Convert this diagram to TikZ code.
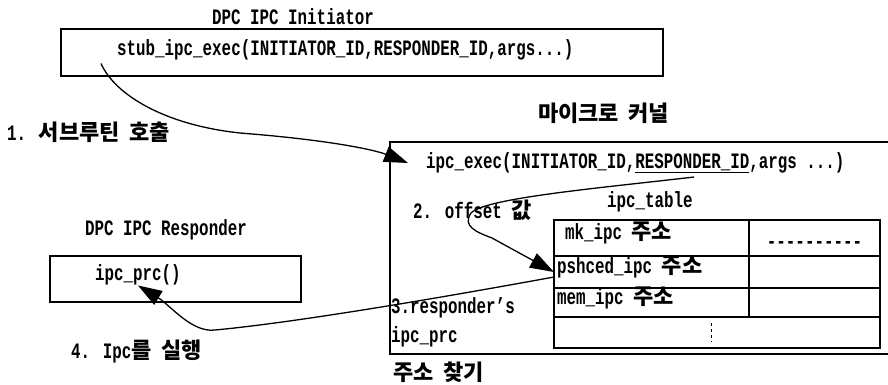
\documentclass[tikz,border=0pt]{standalone}
\usepackage{fontspec}
\setmainfont{Liberation Mono}[FakeStretch=0.72]
\newfontfamily\krfont{Noto Sans CJK KR}
\usetikzlibrary{arrows.meta,positioning}
\tikzset{
  framebox/.style={draw,line width=1.6pt,inner sep=0pt},
  tablecell/.style={draw,line width=1.4pt,inner sep=0pt,outer sep=0pt,minimum width=195pt},
  labeltext/.style={anchor=west,inner sep=0pt},
  steparrow/.style={-{Triangle[length=24pt,width=16pt]},line width=1.3pt},
}

\begin{document}
\begin{tikzpicture}[x=1pt,y=-1pt,font=\fontsize{22}{26}\selectfont\bfseries]
    \useasboundingbox (0,0) rectangle (888,384);
    % initiator
    \node[labeltext] (inittitle) at (212,17) {DPC IPC Initiator};
    \node[framebox,minimum width=602pt,minimum height=47pt] (initbox) at (362,52.5) {};
    \node[labeltext] (stubtext) at (117,50) {stub\_ipc\_exec(INITIATOR\_ID,RESPONDER\_ID,args...)};
    \node[labeltext] (calltext) at (7,132) {1. {\krfont 서브루틴} {\krfont 호출}};
    % kernel
    \node[labeltext] (kerneltitle) at (538,113) {{\krfont 마이크로} {\krfont 커널}};
    \node[framebox,minimum width=505pt,minimum height=212pt] (kernelbox) at (642.5,248) {};
    \node[labeltext] (exectext) at (426,163) {ipc\_exec(INITIATOR\_ID,\underline{RESPONDER\_ID},args ...)};
    \node[labeltext] (offsettext) at (413,210) {2. offset {\krfont 값}};
    \node[labeltext] (tabletitle) at (607,202) {ipc\_table};
    % ipc_table
    \node[tablecell,minimum height=36pt,anchor=north west] (mkcell) at (554,220) {};
    \node[tablecell,minimum width=131pt,minimum height=36pt,right=0pt of mkcell] (mkvalue) {};
    \node[tablecell,minimum height=32pt,below=0pt of mkcell] (pshcedcell) {};
    \node[tablecell,minimum width=131pt,minimum height=32pt,right=0pt of pshcedcell] (pshcedvalue) {};
    \node[tablecell,minimum height=29pt,below=0pt of pshcedcell] (memcell) {};
    \node[tablecell,minimum width=131pt,minimum height=29pt,right=0pt of memcell] (memvalue) {};
    \node[tablecell,minimum width=326pt,minimum height=31pt,below right=0pt and 0pt of memcell.south west] (restcell) {};
    \node[labeltext] (mktext) at ([shift={(11pt,-13pt)}]mkcell.north west) {mk\_ipc {\krfont 주소}};
    \node[labeltext] (pshcedtext) at ([shift={(3pt,-11pt)}]pshcedcell.north west) {pshced\_ipc {\krfont 주소}};
    \node[labeltext] (memtext) at ([shift={(3pt,-10pt)}]memcell.north west) {mem\_ipc {\krfont 주소}};
    \node[inner sep=0pt] (mkdash) at ([yshift=-7pt]mkvalue.center) {-{}-{}-{}-{}-{}-{}-{}-{}-{}-};
    \draw[dashed,line width=1pt] ([shift={(157pt,-6pt)}]restcell.north west) -- ([shift={(157pt,6pt)}]restcell.south west);
    \node[labeltext] (resptext) at (391,308) {3.responder's};
    \node[labeltext] (prcname) at (391,337) {ipc\_prc};
    \node[labeltext] (findtext) at (393,372) {{\krfont 주소} {\krfont 찾기}};
    % responder
    \node[labeltext] (resptitle) at (85,230) {DPC IPC Responder};
    \node[framebox,minimum width=251pt,minimum height=46pt] (respbox) at (175.5,279) {};
    \node[labeltext] (prctext) at (95,275) {ipc\_prc()};
    \node[labeltext] (runtext) at (71,351) {4. Ipc{\krfont 를} {\krfont 실행}};
    % steps
    \coordinate (offsetstart) at (694,177);
    \draw[steparrow] ([xshift=-16pt,yshift=-3pt]stubtext.south west) .. controls (115,95) and (165,125) .. (240,133)
      .. controls (330,140) and (375,150) .. ([xshift=-18pt]exectext.west);
    \draw[steparrow] (offsetstart) .. controls (600,188) and (485,198) .. (471,213)
      .. controls (462,226) and (476,232) .. (492,238) -- (pshcedcell.west);
    \draw[steparrow] ([yshift=-5pt]pshcedcell.west) .. controls (450,296) and (300,322) .. (215,330)
      .. controls (192,333) and (170,305) .. (prctext.south);
\end{tikzpicture}
\end{document}
